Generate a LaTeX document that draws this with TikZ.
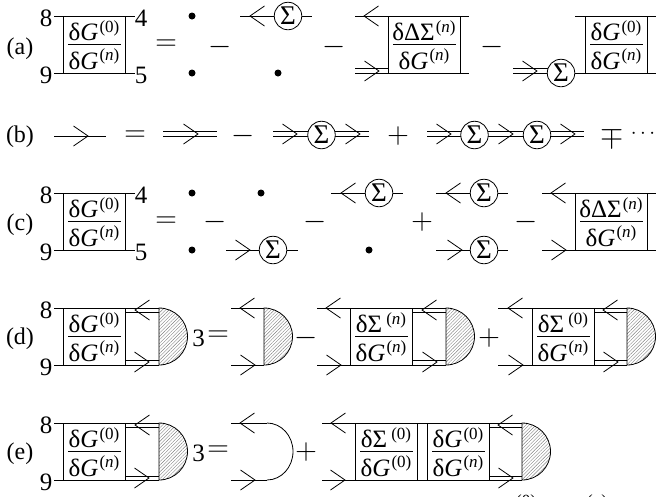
\documentclass[tikz,border=0pt]{standalone}
\usepackage{fontspec}
\setmainfont{Liberation Serif}
\usetikzlibrary{patterns.meta}

\newcommand{\upidx}[1]{\hspace{1pt}\raisebox{8.5pt}{\fontsize{17}{17}\selectfont(#1)}}
\newcommand{\fG}[1]{δ\textit{G}\upidx{#1}}
\newcommand{\fS}[1]{δΣ\hspace{3pt}\upidx{#1}}
\newcommand{\fDS}[1]{δΔΣ\upidx{#1}}
\newcommand{\nn}{\textit{n}}

\tikzset{
  big/.style={font=\fontsize{25}{25}\selectfont, inner sep=0pt},
  tag/.style={font=\fontsize{24}{24}\selectfont, inner sep=0pt},
  oper/.style={font=\fontsize{24.88}{25}\selectfont, inner sep=0pt, scale=1.2},
  sigma/.style={draw, circle, fill=white, minimum size=27.5pt, inner sep=0pt, font=\fontsize{27}{27}\selectfont},
  chev/.style={line width=0.8pt},
  twin/.style={line width=0.7pt},
  disc/.style={pattern={Lines[angle=45, distance=2.4pt, line width=0.4pt]}, pattern color=gray, line width=0.8pt}
}

\begin{document}
\begin{tikzpicture}[x=1pt, y=-1pt, line width=0.8pt]
  \useasboundingbox (0,0) rectangle (656,496);

  % row labels
  \foreach \n/\y in {a/49, b/137, c/225, d/339, e/454}
    \node[tag] (tag\n) at (20,\y) {(\n)};

  % external indices
  \foreach \n/\x/\y/\t in {e1/46/18/8, e2/46/75/9, e3/141/18/4, e4/141/75/5,
    e5/46/195/8, e6/46/252/9, e7/141/195/4, e8/141/252/5,
    e9/46/310/8, e10/46/367/9, e11/46/425/8, e12/46/482/9}
    \node[big] (idx\n) at (\x,\y) {\t};

  % fraction boxes
  \foreach \n/\xa/\xb/\yt/\num/\den in {
    a1/63/125/16/\fG{0}/\fG{\nn}, a2/388/460/16/\fDS{\nn}/\fG{\nn}, a3/585/647/16/\fG{0}/\fG{\nn},
    c1/63/125/193/\fG{0}/\fG{\nn}, c2/575/647/193/\fDS{\nn}/\fG{\nn},
    d1/63/125/308/\fG{0}/\fG{\nn}, d2/350/412/308/\fS{\nn}/\fG{\nn}, d3/532/594/308/\fS{0}/\fG{\nn},
    e1/63/125/423/\fG{0}/\fG{\nn}, e2/355/417/423/\fS{0}/\fG{0}, e3/427/489/423/\fG{0}/\fG{\nn}} {
    \draw (\xa,\yt) rectangle (\xb,\yt+57);
    \node[big, anchor=base] (num\n) at ({(\xa+\xb)/2},\yt+24.5) {\num};
    \node[big, anchor=base] (den\n) at ({(\xa+\xb)/2},\yt+53) {\den};
    \coordinate (rl\n) at (\xa+5,\yt+28.5);
    \coordinate (rr\n) at (\xb-4,\yt+28.5);
    \draw[line width=0.7pt] (rl\n) -- (rr\n);
  }

  % single lines
  \foreach \n/\xa/\xb/\y in {1/54/135/16, 2/54/135/73, 3/355/469/16, 4/388/469/73, 5/575/656/16,
    6/54/106/136, 7/54/135/193, 8/54/135/250, 9/542/656/193, 10/542/656/250,
    11/54/159/308, 12/54/159/365, 13/125/159/312, 14/125/159/360.5,
    15/231/264/308, 16/231/264/365, 17/317/446/308, 18/317/446/365,
    19/412/446/312, 20/412/446/360.5, 21/498/627/308, 22/498/627/365,
    23/594/627/312, 24/594/627/360.5, 25/54/159/423, 26/54/159/480,
    27/125/159/427, 28/125/159/476, 29/322/522/423, 30/322/522/480,
    31/489/522/427, 32/489/522/476, 33/231/267/423, 34/231/267/480} {
    \coordinate (p\n) at (\xa,\y);
    \coordinate (q\n) at (\xb,\y);
    \draw (p\n) -- (q\n);
  }

  % double lines
  \foreach \n/\xa/\xb/\y in {1/355/388/71, 2/513/548/71, 3/163/217/134, 4/273/308/134,
    5/335/369/134, 6/427/461/134, 7/488/523/134, 8/551/584/134} {
    \coordinate (dp\n) at (\xa,\y);
    \coordinate (dq\n) at (\xb,\y);
    \draw[twin] ([yshift=2.2pt]dp\n) -- ([yshift=2.2pt]dq\n);
    \draw[twin] ([yshift=-2.2pt]dp\n) -- ([yshift=-2.2pt]dq\n);
  }

  % sigma insertions with their tails
  \foreach \n/\x/\y/\xa/\xb in {1/288/16/240/312, 2/273/250/226/298, 3/379/193/331/403,
    4/484/193/436/508, 5/484/250/436/508} {
    \node[sigma] (sig\n) at (\x,\y) {Σ};
    \coordinate (sl\n) at (\xa,\y);
    \coordinate (sr\n) at (\xb,\y);
    \draw (sl\n) -- (sig\n) -- (sr\n);
  }
  \node[sigma] (sig6) at (561,73) {Σ};
  \coordinate (sr6) at (656,73);
  \draw (sig6) -- (sr6);
  \node[sigma] (sig7) at (321.5,135) {Σ};
  \node[sigma] (sig8) at (474.5,135) {Σ};
  \node[sigma] (sig9) at (537,135) {Σ};

  % arrow heads
  \foreach \x/\y in {379/71, 537/71, 88/136, 198/134, 297/134, 360/134, 451/134, 513/134, 575/134,
    250/250, 462/250, 566/250, 149/362, 255/365, 341/365, 437/362, 523/365, 618/362,
    149/478, 255/480, 345/480, 513/478}
    \draw[chev] (\x-14.5,\y-10) -- (\x,\y) -- (\x-14.5,\y+10);
  \foreach \x/\y in {250/16, 364/16, 341/193, 446/193, 551/193, 135/310, 240/308, 326/308,
    422/310, 508/308, 603/310, 135/425, 240/423, 331/423, 498/425}
    \draw[chev] (\x+14.5,\y-10) -- (\x,\y) -- (\x+14.5,\y+10);

  % vertices
  \foreach \x/\y in {192/16, 192/73, 278/73, 192/193, 192/250, 261/193, 369/250}
    \fill (\x,\y) circle (3.5pt);

  % hatched blobs
  \foreach \x/\y in {159/308, 264/308, 446/308, 627/308, 159/423, 522/423}
    \draw[disc] (\x,\y) .. controls (\x+15.7,\y) and (\x+28.5,\y+12.8) .. (\x+28.5,\y+28.5)
      .. controls (\x+28.5,\y+44.2) and (\x+15.7,\y+57) .. (\x,\y+57) -- cycle;
  \draw (q33) .. controls (281.4,423) and (293,435.8) .. (293,451.5)
    .. controls (293,467.2) and (281.4,480) .. (q34);

  % signs
  \foreach \n/\x/\y/\s in {1/166/45/=, 2/220/47/-, 3/334.5/47/-, 4/492.5/47/-,
    5/135/136/=, 6/243.5/136/-, 7/398/136/+, 8/612.5/137/\mp,
    10/166/222/=, 11/215.5/222.5/-, 12/315.5/222.5/-, 13/422/222/+, 14/526/222/-,
    15/218/336/=, 16/306/338/-, 17/489/338/+, 18/218/451/=, 19/306/452/+}
    \node[oper] (op\n) at (\x,\y) {$\s$};
  \node[font=\fontsize{20.74}{21}\selectfont, inner sep=0pt] (dots) at (643,134) {$\cdots$};
  \node[big] (three1) at (198.5,338) {3};
  \node[big] (three2) at (198.5,453) {3};

  % tops of the next line, cut by the page edge
  \node[tag, anchor=north] (cut1) at (526,494) {\fontsize{17}{17}\selectfont(0)};
  \node[tag, anchor=north] (cut2) at (597,494) {\fontsize{17}{17}\selectfont(\nn)};
\end{tikzpicture}
\end{document}
